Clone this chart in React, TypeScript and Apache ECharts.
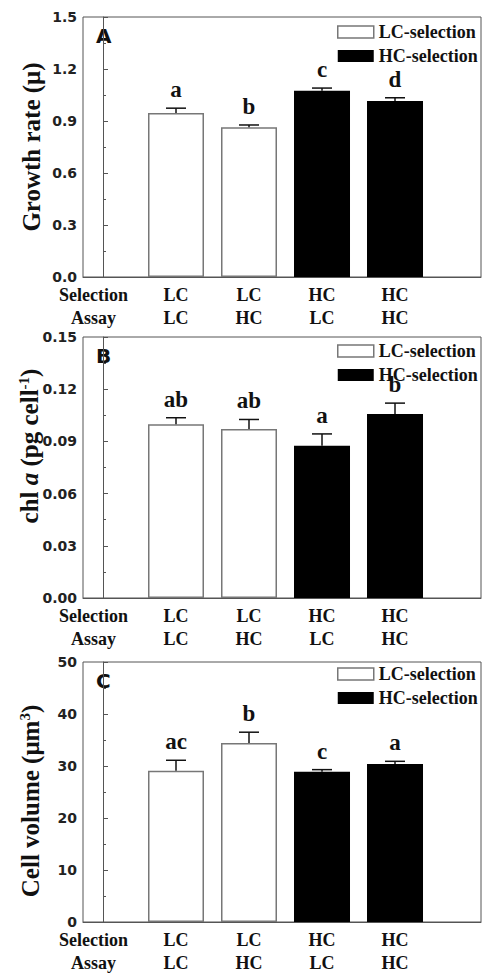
import React, { useEffect, useRef } from "react";
import * as echarts from "echarts";

// ---- data ----
const selection = ["LC", "LC", "HC", "HC"];
const assay = ["LC", "HC", "LC", "HC"];
const positions = [1, 2, 3, 4];

const growth = [0.946, 0.864, 1.075, 1.016];
const growthErr = [0.028, 0.013, 0.015, 0.018];
const growthLetters = ["a", "b", "c", "d"];

const chl = [0.0998, 0.0971, 0.0875, 0.1058];
const chlErr = [0.0038, 0.0055, 0.0068, 0.0062];
const chlLetters = ["ab", "ab", "a", "b"];

const volume = [29.1, 34.4, 28.9, 30.4];
const volumeErr = [2.0, 2.1, 0.4, 0.5];
const volumeLetters = ["ac", "b", "c", "a"];

const yMax = [1.5, 0.15, 50];
const yInterval = [0.3, 0.03, 10];
const yDecimals = [1, 2, 0];
const panelLetters = ["A", "B", "C"];
const legendNames = ["LC-selection", "HC-selection"];

const SERIF = "Liberation Serif";
const SANS = "DejaVu Sans";

export default function App() {
  const ref = useRef<HTMLDivElement>(null);
  useEffect(() => {
    if (!ref.current) return;
    const chart = echarts.init(ref.current, null, { renderer: "svg" });
    const values = [growth, chl, volume];
    const errs = [growthErr, chlErr, volumeErr];
    const letters = [growthLetters, chlLetters, volumeLetters];
    const tops = [17, 337, 662];
    const heights = [260, 261, 260];
    const legendTops = [20, 339, 662];
    const nameY = [147, 446, 801];
    const nameX = [31, 29, 30];

    const grid: any[] = [];
    const xAxis: any[] = [];
    const yAxis: any[] = [];
    const series: any[] = [];
    const legend: any[] = [];
    const graphic: any[] = [];

    const labStyle = {
      fontFamily: SERIF,
      fontWeight: "bold",
      fontSize: 18,
      color: "#111",
      lineHeight: 23,
    };

    for (let p = 0; p < 3; p++) {
      grid.push({
        left: 83,
        width: 398,
        top: tops[p],
        height: heights[p],
        show: true,
        borderColor: "#555",
        borderWidth: 1,
        backgroundColor: "transparent",
        outerBoundsMode: "none",
      });
      xAxis.push({
        type: "value",
        gridIndex: p,
        min: -0.274,
        max: 5.178,
        axisLine: { show: true, lineStyle: { color: "#555", width: 1 } },
        axisTick: { show: false },
        splitLine: { show: false },
        axisLabel: {
          customValues: [-0.13, ...positions],
          formatter: (v: number) => {
            const i = positions.findIndex((q) => Math.abs(q - v) < 0.01);
            if (i < 0) return "{s|Selection}\n{s|Assay}";
            return "{s|" + selection[i] + "}\n{s|" + assay[i] + "}";
          },
          ...labStyle,
          rich: { s: { ...labStyle } },
          margin: 6,
        },
      });
      yAxis.push({
        type: "value",
        gridIndex: p,
        min: 0,
        max: yMax[p],
        interval: yInterval[p],
        axisLine: { show: true, lineStyle: { color: "#555", width: 1 } },
        axisTick: { show: true, inside: true, length: 5, lineStyle: { color: "#555" } },
        minorTick: { show: true, splitNumber: 2, length: 3, lineStyle: { color: "#555" } },
        splitLine: { show: false },
        axisLabel: {
          formatter: (v: number) => v.toFixed(yDecimals[p]),
          fontFamily: SANS,
          fontWeight: "bold",
          fontSize: 14,
          color: "#222",
          margin: 6,
        },
      });
      const vals = values[p];
      const er = errs[p];
      series.push({
        name: legendNames[0],
        type: "bar",
        xAxisIndex: p,
        yAxisIndex: p,
        barWidth: 56,
        barGap: "-100%",
        data: [0, 1].map((i) => [positions[i], vals[i]]),
        itemStyle: { color: "#fff", borderColor: "#777", borderWidth: 1.5 },
        z: 2,
      });
      series.push({
        name: legendNames[1],
        type: "bar",
        xAxisIndex: p,
        yAxisIndex: p,
        barWidth: 56,
        barGap: "-100%",
        data: [2, 3].map((i) => [positions[i], vals[i]]),
        itemStyle: { color: "#000" },
        z: 2,
      });
      const lt = letters[p];
      series.push({
        type: "custom",
        xAxisIndex: p,
        yAxisIndex: p,
        z: 3,
        data: vals.map((v, i) => [positions[i], v, v + er[i]]),
        renderItem: (params: any, api: any) => {
          const x = api.value(0);
          const base = api.coord([x, api.value(1)]);
          const top = api.coord([x, api.value(2)]);
          return {
            type: "group",
            children: [
              {
                type: "line",
                shape: { x1: base[0], y1: base[1], x2: top[0], y2: top[1] },
                style: { stroke: "#111", lineWidth: 1.5 },
              },
              {
                type: "line",
                shape: { x1: top[0] - 10, y1: top[1], x2: top[0] + 10, y2: top[1] },
                style: { stroke: "#111", lineWidth: 1.5 },
              },
              {
                type: "text",
                x: top[0],
                y: top[1] - 7,
                style: {
                  text: lt[params.dataIndex],
                  fontFamily: SERIF,
                  fontWeight: "bold",
                  fontSize: 23,
                  fill: "#111",
                  align: "center",
                  verticalAlign: "bottom",
                },
              },
            ],
          };
        },
      });
      legend.push({
        orient: "vertical",
        left: 337,
        top: legendTops[p],
        padding: 0,
        itemGap: 0,
        itemWidth: 36,
        itemHeight: 12,
        selectedMode: false,
        icon: "rect",
        data: [
          { name: legendNames[0], itemStyle: { color: "#fff", borderColor: "#777", borderWidth: 1.5 } },
          { name: legendNames[1], itemStyle: { color: "#000" } },
        ],
        textStyle: {
          fontFamily: SERIF,
          fontWeight: "bold",
          fontSize: 18,
          color: "#111",
          lineHeight: 24,
        },
      });
      graphic.push({
        type: "text",
        left: 96,
        top: tops[p] + 9,
        style: { text: panelLetters[p], fontFamily: SANS, fontWeight: "bold", fontSize: 20, fill: "#111" },
      });
    }

    const nameTexts = [
      "Growth rate (μ)",
      "chl {i|a} (pg cell{sup|-1})",
      "Cell volume (μm{sup|3})",
    ];
    for (let p = 0; p < 3; p++) {
      graphic.push({
        type: "text",
        x: nameX[p],
        y: nameY[p],
        rotation: Math.PI / 2,
        style: {
          text: nameTexts[p],
          fontFamily: SERIF,
          fontWeight: "bold",
          fontSize: 25,
          fill: "#111",
          align: "center",
          verticalAlign: "middle",
          rich: {
            i: { fontFamily: SERIF, fontWeight: "bold", fontStyle: "italic", fontSize: 25, fill: "#111" },
            sup: { fontFamily: SERIF, fontWeight: "bold", fontSize: 15, fill: "#111", verticalAlign: "top" },
          },
        },
      });
    }

    chart.setOption({
      animation: false,
      backgroundColor: "#fff",
      grid,
      xAxis,
      yAxis,
      series,
      legend,
      graphic,
    });
    return () => chart.dispose();
  }, []);
  return (
    <div
      ref={ref}
      style={{ position: "fixed", left: 0, top: 0, width: 482, height: 978 }}
    />
  );
}
